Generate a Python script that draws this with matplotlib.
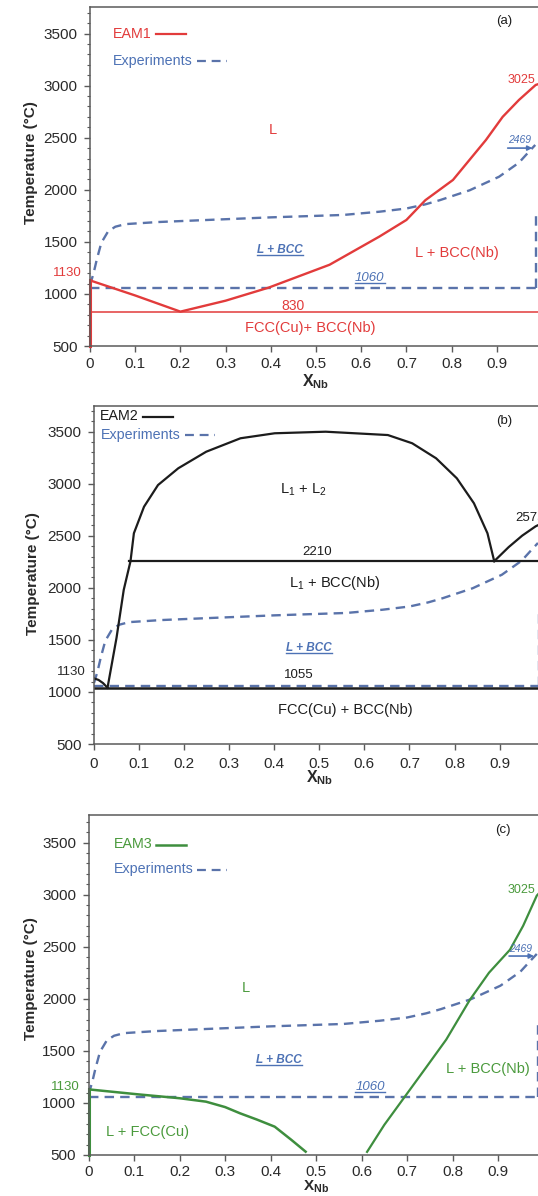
import matplotlib
matplotlib.use("Agg")
import matplotlib.pyplot as plt
from matplotlib.ticker import MultipleLocator
from matplotlib.transforms import blended_transform_factory

plt.rcParams['font.family'] = ['Liberation Sans', 'DejaVu Sans']
plt.rcParams['mathtext.fontset'] = 'custom'
plt.rcParams['mathtext.rm'] = 'Liberation Sans'
plt.rcParams['mathtext.it'] = 'Liberation Sans:italic'
plt.rcParams['mathtext.bf'] = 'Liberation Sans:bold'

# ---------------- data ----------------
x_ticks = [0, 0.1, 0.2, 0.3, 0.4, 0.5, 0.6, 0.7, 0.8, 0.9, 1.0]
x_tick_labels = ['0', '0.1', '0.2', '0.3', '0.4', '0.5', '0.6', '0.7', '0.8', '0.9', '1']
y_ticks = [500, 1000, 1500, 2000, 2500, 3000, 3500]

# experiments (dashed blue)
exp_liq_x = [0.0, 0.008, 0.015, 0.025, 0.04, 0.056, 0.078, 0.15, 0.26, 0.40, 0.56, 0.64,
             0.70, 0.742, 0.774, 0.84, 0.905, 0.949, 0.97, 0.985]
exp_liq_T = [1085, 1200, 1330, 1490, 1600, 1645, 1670, 1690, 1710, 1735, 1758, 1789,
             1820, 1860, 1900, 1995, 2125, 2260, 2360, 2430]
exp_peri_x = [0.0, 0.987]
exp_peri_T = [1060, 1060]
exp_solvus_x = [0.987, 0.987]
exp_solvus_T = [1060, 1750]

# EAM1 (red)
eam1_liq_x = [0, 0.1, 0.2, 0.3, 0.395, 0.53, 0.64, 0.70, 0.742, 0.803, 0.876, 0.913, 0.949, 0.986, 1.0]
eam1_liq_T = [1130, 985, 830, 935, 1060, 1280, 1550, 1710, 1900, 2094, 2478, 2700, 2862, 3006, 3025]
eam1_cu_x = [0, 0]
eam1_cu_T = [500, 1130]
eam1_eut_x = [0, 1.0]
eam1_eut_T = [830, 830]

# EAM2 (black)
eam2_gap_x = [0.030, 0.05, 0.066, 0.081, 0.0885, 0.111, 0.142, 0.187, 0.249, 0.325, 0.401,
              0.514, 0.652, 0.706, 0.759, 0.805, 0.843, 0.873, 0.888]
eam2_gap_T = [1040, 1520, 1980, 2255, 2523, 2778, 2986, 3147, 3306, 3435, 3483,
              3498, 3466, 3387, 3243, 3051, 2811, 2523, 2255]
eam2_cu_x = [0, 0.01, 0.02, 0.03]
eam2_cu_T = [1130, 1115, 1085, 1040]
eam2_nb_x = [0.888, 0.92, 0.95, 0.98, 1.0]
eam2_nb_T = [2255, 2390, 2500, 2590, 2630]
eam2_mono_x = [0.077, 1.0]
eam2_mono_T = [2255, 2255]
eam2_eut_x = [0, 1.0]
eam2_eut_T = [1040, 1040]

# EAM3 (green)
eam3_cu_x = [0, 0.107, 0.2, 0.258, 0.3, 0.333, 0.37, 0.409, 0.446, 0.477]
eam3_cu_T = [1130, 1083, 1045, 1012, 960, 900, 840, 772, 644, 532]
eam3_nb_x = [0.612, 0.65, 0.695, 0.74, 0.786, 0.838, 0.88, 0.926, 0.955, 0.985, 1.0]
eam3_nb_T = [530, 790, 1060, 1330, 1608, 1990, 2250, 2470, 2700, 2990, 3060]
eam3_cuv_x = [0, 0]
eam3_cuv_T = [500, 1130]

# ---------------- style ----------------
RED = '#e23b3b'
GREEN = '#3e8e3e'
GREEN_T = '#4a9a3c'
BLUE_L = '#5a73aa'
BLUE_T = '#4d72b5'
BLACK = '#1c1c1c'
AXC = '#5a5a5a'
TICKC = '#2a2a2a'
DASH = (0, (4, 2.6))

W, H = 538, 1196
fig = plt.figure(figsize=(W / 100, H / 100), dpi=100)
PXU = 312.5 / 3000.0


def make_axes(x0, unit, y500, ytop, xpad=5):
    ax = fig.add_axes([x0 / W, (H - y500) / H, 1.05 * unit / W, (y500 - ytop) / H])
    ax.set_xlim(0, 1.05)
    ax.set_ylim(500, 500 + (y500 - ytop) / PXU)
    for s in ['top', 'left', 'bottom']:
        ax.spines[s].set_color(AXC)
        ax.spines[s].set_linewidth(1.1)
    ax.spines['right'].set_visible(False)
    ax.set_xticks(x_ticks)
    ax.set_xticklabels(x_tick_labels)
    ax.set_yticks(y_ticks)
    ax.yaxis.set_minor_locator(MultipleLocator(100))
    ax.tick_params(axis='both', which='major', direction='out', length=4, width=1,
                   color=AXC, labelsize=11, labelcolor=TICKC)
    ax.tick_params(axis='y', which='major', pad=5)
    ax.tick_params(axis='x', which='major', pad=xpad)
    ax.tick_params(axis='y', which='minor', direction='out', length=2.5, width=0.8, color=AXC)
    ax.set_ylabel('Temperature (°C)', fontsize=11, fontweight='bold', color=TICKC)
    return ax, unit * 1.05


def draw_exp(ax):
    ax.plot(exp_liq_x, exp_liq_T, color=BLUE_L, lw=1.7, ls=DASH)
    ax.plot(exp_peri_x, exp_peri_T, color=BLUE_L, lw=1.7, ls=DASH)
    ax.plot(exp_solvus_x, exp_solvus_T, color=BLUE_L, lw=1.7, ls=DASH)


underlines = []
handles = []


def ul_text(ax, x, y, s, color, size, style='italic', weight='normal'):
    t = ax.text(x, y, s, color=color, fontsize=size, ha='center', va='center',
                style=style, fontweight=weight)
    underlines.append((ax, t, color))
    return t


def legend_row(ax, axw, xoff_px, yT, label, color, lcolor, ls, lw):
    tr = blended_transform_factory(ax.transAxes, ax.transData)
    t = ax.text(xoff_px / axw, yT, label, color=color, fontsize=10.3, ha='left', va='center',
                transform=tr)
    handles.append((ax, t, lcolor, ls, lw))


def left_label(ax, yT, s, color):
    tr = blended_transform_factory(ax.transAxes, ax.transData)
    ax.text(-0.018, yT, s, color=color, fontsize=9.5, ha='right', va='center', transform=tr)


def set_ylabel_px(ax, axw, x0, xc_px, frac):
    ax.yaxis.set_label_coords((xc_px - x0) / axw, frac)
    ax.yaxis.label.set_va('center')


def set_xlabel_px(ax, y_axes, size=11.5):
    tr = blended_transform_factory(ax.transData, ax.transAxes)
    ax.text(0.5, y_axes, r'$\mathbf{X}_{\mathbf{Nb}}$', fontsize=size, color=TICKC,
            ha='center', va='center', transform=tr)


# ---------------- panel (a) ----------------
axa, wa = make_axes(90, 452, 346, 7, xpad=4)
draw_exp(axa)
axa.plot(eam1_liq_x, eam1_liq_T, color=RED, lw=1.7)
axa.plot(eam1_cu_x, eam1_cu_T, color=RED, lw=2.2, clip_on=False)
axa.plot(eam1_eut_x, eam1_eut_T, color=RED, lw=1.1)
legend_row(axa, wa, 23, 3500, 'EAM1', RED, RED, '-', 1.6)
legend_row(axa, wa, 23, 3240, 'Experiments', BLUE_T, BLUE_L, DASH, 1.6)
axa.text(0.917, 3623, '(a)', fontsize=9.5, ha='center', va='center', color=BLACK)
axa.text(0.405, 2574, 'L', fontsize=10.5, color=RED, ha='center', va='center')
axa.text(0.985, 3053, '3025', fontsize=9, color=RED, ha='right', va='center')
axa.text(0.95, 2478, '2469', fontsize=7.5, color=BLUE_T, ha='center', va='center', style='italic')
axa.annotate('', xy=(0.985, 2400), xytext=(0.918, 2400),
             arrowprops=dict(arrowstyle='-|>', color=BLUE_T, lw=1.2, mutation_scale=7))
ul_text(axa, 0.42, 1420, 'L + BCC', BLUE_T, 8.5, weight='bold')
ul_text(axa, 0.619, 1150, '1060', BLUE_T, 9.5)
axa.text(0.811, 1390, 'L + BCC(Nb)', fontsize=10.5, color=RED, ha='center', va='center')
axa.text(0.45, 884, '830', fontsize=10, color=RED, ha='center', va='center')
axa.text(0.488, 670, 'FCC(Cu)+ BCC(Nb)', fontsize=10.5, color=RED, ha='center', va='center')
left_label(axa, 1198, '1130', RED)
set_xlabel_px(axa, -0.104)
set_ylabel_px(axa, wa, 90, 31, 0.54)

# ---------------- panel (b) ----------------
axb, wb = make_axes(94, 450.7, 744, 406)
draw_exp(axb)
axb.plot(eam2_gap_x, eam2_gap_T, color=BLACK, lw=1.6)
axb.plot(eam2_cu_x, eam2_cu_T, color=BLACK, lw=1.6)
axb.plot(eam2_nb_x, eam2_nb_T, color=BLACK, lw=1.6)
axb.plot(eam2_mono_x, eam2_mono_T, color=BLACK, lw=1.6)
axb.plot(eam2_eut_x, eam2_eut_T, color=BLACK, lw=1.8)
legend_row(axb, wb, 6, 3646, 'EAM2', BLACK, BLACK, '-', 1.6)
legend_row(axb, wb, 7, 3470, 'Experiments', BLUE_T, BLUE_L, DASH, 1.6)
axb.text(0.911, 3597, '(b)', fontsize=9.5, ha='center', va='center', color=BLACK)
axb.text(0.464, 2938, r'L$_1$ + L$_2$', fontsize=10.5, color=BLACK, ha='center', va='center')
axb.text(0.494, 2346, '2210', fontsize=9.5, color=BLACK, ha='center', va='center')
axb.text(0.934, 2666, '2575', fontsize=9.5, color=BLACK, ha='left', va='center')
axb.text(0.534, 2043, r'L$_1$ + BCC(Nb)', fontsize=10.5, color=BLACK, ha='center', va='center')
ul_text(axb, 0.477, 1419, 'L + BCC', BLUE_T, 8.5, weight='bold')
axb.text(0.454, 1162, '1055', fontsize=9.5, color=BLACK, ha='center', va='center')
axb.text(0.557, 826, 'FCC(Cu) + BCC(Nb)', fontsize=10.5, color=BLACK, ha='center', va='center')
left_label(axb, 1194, '1130', TICKC)
set_xlabel_px(axb, -0.1)
set_ylabel_px(axb, wb, 94, 33, 0.503)

# ---------------- panel (c) ----------------
axc, wc = make_axes(88.6, 455, 1155, 815, xpad=3.5)
draw_exp(axc)
axc.plot(eam3_cu_x, eam3_cu_T, color=GREEN, lw=1.8)
axc.plot(eam3_nb_x, eam3_nb_T, color=GREEN, lw=1.6)
axc.plot(eam3_cuv_x, eam3_cuv_T, color=GREEN, lw=2.2, clip_on=False)
legend_row(axc, wc, 25, 3483, 'EAM3', GREEN_T, GREEN, '-', 1.8)
legend_row(axc, wc, 25, 3243, 'Experiments', BLUE_T, BLUE_L, DASH, 1.6)
axc.text(0.911, 3620, '(c)', fontsize=9.5, ha='center', va='center', color=BLACK)
axc.text(0.345, 2100, 'L', fontsize=10.5, color=GREEN_T, ha='center', va='center')
axc.text(0.981, 3044, '3025', fontsize=9, color=GREEN_T, ha='right', va='center')
axc.text(0.95, 2478, '2469', fontsize=7.5, color=BLUE_T, ha='center', va='center', style='italic')
axc.annotate('', xy=(0.985, 2410), xytext=(0.918, 2410),
             arrowprops=dict(arrowstyle='-|>', color=BLUE_T, lw=1.2, mutation_scale=7))
ul_text(axc, 0.419, 1412, 'L + BCC', BLUE_T, 8.5, weight='bold')
ul_text(axc, 0.619, 1150, '1060', BLUE_T, 9.5)
axc.text(0.878, 1330, 'L + BCC(Nb)', fontsize=10.5, color=GREEN_T, ha='center', va='center')
axc.text(0.13, 724, 'L + FCC(Cu)', fontsize=10.5, color=GREEN_T, ha='center', va='center')
left_label(axc, 1150, '1130', GREEN_T)
set_xlabel_px(axc, -0.094, size=11)
set_ylabel_px(axc, wc, 88.6, 31, 0.518)

# ---------- post-layout decorations (underlines, legend handles) ----------
fig.canvas.draw()
r = fig.canvas.get_renderer()
for ax, t, col in underlines:
    bb = t.get_window_extent(renderer=r)
    inv = ax.transData.inverted()
    (x0, y0) = inv.transform((bb.x0, bb.y0 + 1))
    (x1, _) = inv.transform((bb.x1, bb.y0 + 1))
    ax.plot([x0, x1], [y0, y0], color=col, lw=1.0)
for ax, t, col, ls, lw in handles:
    bb = t.get_window_extent(renderer=r)
    inv = ax.transAxes.inverted()
    yc = (bb.y0 + bb.y1) / 2 - 0.5
    (a0, b0) = inv.transform((bb.x1 + 4, yc))
    (a1, _) = inv.transform((bb.x1 + 34, yc))
    ax.plot([a0, a1], [b0, b0], color=col, ls=ls, lw=lw, transform=ax.transAxes)

fig.savefig('out.png', dpi=100)
